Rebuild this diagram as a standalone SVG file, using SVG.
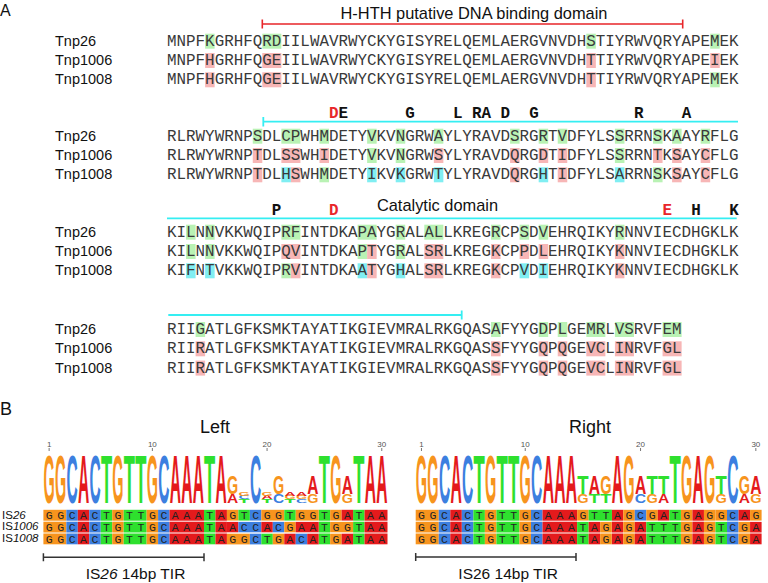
<svg xmlns="http://www.w3.org/2000/svg" width="768" height="583" viewBox="0 0 768 583">
<style>
.pl{font-family:"Liberation Sans",Arial,sans-serif;fill:#111}
.nm{font-family:"Liberation Sans",Arial,sans-serif;font-size:14.5px;fill:#111}
.sq{font-family:"Liberation Mono","Courier New",monospace;font-size:15.88px;fill:#3a3a3a}
.bl{font-family:"Liberation Mono","Courier New",monospace;font-size:15.88px;font-weight:bold;fill:#111;text-anchor:middle}
.rd{fill:#e8262a}
.dm{font-family:"Liberation Sans",Arial,sans-serif;font-size:16.4px;fill:#111;text-anchor:middle}
.hg{fill:#b9f2b4}.hp{fill:#f7b6b6}.hc{fill:#80eef2}
.cy{stroke:#35eef2;stroke-width:1.8;fill:none}
.rl{stroke:#e8262a;stroke-width:1.6;fill:none}
.lg{font-family:"Liberation Sans",Arial,sans-serif;font-weight:bold;font-size:10px;text-anchor:middle}
.g{fill:#f7941d}.c{fill:#3c7fe0}.a{fill:#e41a1c}.t{fill:#2ee02e}
.al{font-family:"Liberation Mono","Courier New",monospace;font-size:11.5px;fill:#222}
.is{font-family:"Liberation Sans",Arial,sans-serif;font-size:11.5px;fill:#111}
.tk{font-family:"Liberation Sans",Arial,sans-serif;font-size:8px;fill:#555;text-anchor:middle}
.tl{stroke:#555;stroke-width:0.8}
.br{stroke:#333;stroke-width:1.5;fill:none}
</style>
<rect width="768" height="583" fill="#fff"/>
<g id="panelA">
<text class="pl" x="0" y="16" font-size="16">A</text>
<g id="block1">
<text class="dm" x="474" y="19">H-HTH putative DNA binding domain</text>
<path class="rl" d="M262.3,24H682.7M262.3,19.5V28.5M682.7,19.5V28.5"/>
<rect class="hg" x="205.12" y="33.7" width="9.53" height="15"/><rect class="hg" x="262.30" y="33.7" width="19.06" height="15"/><rect class="hg" x="586.32" y="33.7" width="9.53" height="15"/><rect class="hg" x="710.21" y="33.7" width="9.53" height="15"/>
<rect class="hp" x="205.12" y="53" width="9.53" height="15"/><rect class="hp" x="262.30" y="53" width="19.06" height="15"/><rect class="hp" x="586.32" y="53" width="9.53" height="15"/><rect class="hp" x="710.21" y="53" width="9.53" height="15"/>
<rect class="hp" x="205.12" y="72.3" width="9.53" height="15"/><rect class="hp" x="262.30" y="72.3" width="19.06" height="15"/><rect class="hp" x="586.32" y="72.3" width="9.53" height="15"/><rect class="hg" x="710.21" y="72.3" width="9.53" height="15"/>
<text class="nm" x="55" y="45.7">Tnp26</text><text class="nm" x="55" y="65">Tnp1006</text><text class="nm" x="55" y="84.3">Tnp1008</text>
<text class="sq" x="167" y="45.7">MNPFKGRHFQRDIILWAVRWYCKYGISYRELQEMLAERGVNVDHSTIYRWVQRYAPEMEK</text>
<text class="sq" x="167" y="65">MNPFHGRHFQGEIILWAVRWYCKYGISYRELQEMLAERGVNVDHTTIYRWVQRYAPEIEK</text>
<text class="sq" x="167" y="84.3">MNPFHGRHFQGEIILWAVRWYCKYGISYRELQEMLAERGVNVDHTTIYRWVQRYAPEMEK</text>
</g>
<g id="block2">
<path class="cy" d="M263.3,121.7H738M263.3,117V126.5"/>
<text class="bl rd" x="333.8" y="118">D</text><text class="bl" x="343.3" y="118">E</text><text class="bl" x="410" y="118">G</text><text class="bl" x="457.7" y="118">L</text><text class="bl" x="476.7" y="118">R</text><text class="bl" x="486.3" y="118">A</text><text class="bl" x="505.3" y="118">D</text><text class="bl" x="533.9" y="118">G</text><text class="bl" x="638.7" y="118">R</text><text class="bl" x="686.4" y="118">A</text>
<rect class="hg" x="252.77" y="128.7" width="9.53" height="15"/><rect class="hg" x="281.36" y="128.7" width="19.06" height="15"/><rect class="hg" x="319.48" y="128.7" width="9.53" height="15"/><rect class="hg" x="367.13" y="128.7" width="9.53" height="15"/><rect class="hg" x="395.72" y="128.7" width="9.53" height="15"/><rect class="hg" x="433.84" y="128.7" width="9.53" height="15"/><rect class="hg" x="510.08" y="128.7" width="9.53" height="15"/><rect class="hg" x="538.67" y="128.7" width="9.53" height="15"/><rect class="hg" x="557.73" y="128.7" width="9.53" height="15"/><rect class="hg" x="614.91" y="128.7" width="9.53" height="15"/><rect class="hg" x="653.03" y="128.7" width="9.53" height="15"/><rect class="hg" x="672.09" y="128.7" width="9.53" height="15"/><rect class="hg" x="700.68" y="128.7" width="9.53" height="15"/>
<rect class="hp" x="252.77" y="148" width="9.53" height="15"/><rect class="hp" x="281.36" y="148" width="19.06" height="15"/><rect class="hp" x="319.48" y="148" width="9.53" height="15"/><rect class="hg" x="367.13" y="148" width="9.53" height="15"/><rect class="hg" x="395.72" y="148" width="9.53" height="15"/><rect class="hp" x="433.84" y="148" width="9.53" height="15"/><rect class="hp" x="510.08" y="148" width="9.53" height="15"/><rect class="hp" x="538.67" y="148" width="9.53" height="15"/><rect class="hp" x="557.73" y="148" width="9.53" height="15"/><rect class="hg" x="614.91" y="148" width="9.53" height="15"/><rect class="hp" x="653.03" y="148" width="9.53" height="15"/><rect class="hp" x="672.09" y="148" width="9.53" height="15"/><rect class="hp" x="700.68" y="148" width="9.53" height="15"/>
<rect class="hp" x="252.77" y="167.3" width="9.53" height="15"/><rect class="hc" x="281.36" y="167.3" width="9.53" height="15"/><rect class="hp" x="290.89" y="167.3" width="9.53" height="15"/><rect class="hg" x="319.48" y="167.3" width="9.53" height="15"/><rect class="hc" x="367.13" y="167.3" width="9.53" height="15"/><rect class="hc" x="395.72" y="167.3" width="9.53" height="15"/><rect class="hc" x="433.84" y="167.3" width="9.53" height="15"/><rect class="hp" x="510.08" y="167.3" width="9.53" height="15"/><rect class="hc" x="538.67" y="167.3" width="9.53" height="15"/><rect class="hp" x="557.73" y="167.3" width="9.53" height="15"/><rect class="hc" x="614.91" y="167.3" width="9.53" height="15"/><rect class="hg" x="653.03" y="167.3" width="9.53" height="15"/><rect class="hp" x="672.09" y="167.3" width="9.53" height="15"/><rect class="hp" x="700.68" y="167.3" width="9.53" height="15"/>
<text class="nm" x="55" y="140.7">Tnp26</text><text class="nm" x="55" y="160">Tnp1006</text><text class="nm" x="55" y="179.3">Tnp1008</text>
<text class="sq" x="167" y="140.7">RLRWYWRNPSDLCPWHMDETYVKVNGRWAYLYRAVDSRGRTVDFYLSSRRNSKAAYRFLG</text>
<text class="sq" x="167" y="160">RLRWYWRNPTDLSSWHIDETYVKVNGRWSYLYRAVDQRGDTIDFYLSSRRNTKSAYCFLG</text>
<text class="sq" x="167" y="179.3">RLRWYWRNPTDLHSWHMDETYIKVKGRWTYLYRAVDQRGHTIDFYLSARRNSKSAYCFLG</text>
</g>
<g id="block3">
<path class="cy" d="M167,218.3H736.7"/>
<text class="dm" x="437.5" y="210.7">Catalytic domain</text>
<text class="bl" x="276.6" y="215">P</text><text class="bl rd" x="333.8" y="215">D</text><text class="bl rd" x="667.3" y="215">E</text><text class="bl" x="695.9" y="215">H</text><text class="bl" x="734" y="215">K</text>
<rect class="hg" x="186.06" y="224.7" width="9.53" height="15"/><rect class="hg" x="205.12" y="224.7" width="9.53" height="15"/><rect class="hg" x="281.36" y="224.7" width="19.06" height="15"/><rect class="hg" x="357.60" y="224.7" width="19.06" height="15"/><rect class="hg" x="395.72" y="224.7" width="9.53" height="15"/><rect class="hg" x="424.31" y="224.7" width="19.06" height="15"/><rect class="hg" x="491.02" y="224.7" width="9.53" height="15"/><rect class="hg" x="519.61" y="224.7" width="9.53" height="15"/><rect class="hg" x="538.67" y="224.7" width="9.53" height="15"/><rect class="hg" x="614.91" y="224.7" width="9.53" height="15"/>
<rect class="hg" x="186.06" y="244" width="9.53" height="15"/><rect class="hg" x="205.12" y="244" width="9.53" height="15"/><rect class="hp" x="281.36" y="244" width="19.06" height="15"/><rect class="hg" x="357.60" y="244" width="9.53" height="15"/><rect class="hp" x="367.13" y="244" width="9.53" height="15"/><rect class="hg" x="395.72" y="244" width="9.53" height="15"/><rect class="hp" x="424.31" y="244" width="19.06" height="15"/><rect class="hp" x="491.02" y="244" width="9.53" height="15"/><rect class="hp" x="519.61" y="244" width="9.53" height="15"/><rect class="hp" x="538.67" y="244" width="9.53" height="15"/><rect class="hp" x="614.91" y="244" width="9.53" height="15"/>
<rect class="hc" x="186.06" y="263.3" width="9.53" height="15"/><rect class="hc" x="205.12" y="263.3" width="9.53" height="15"/><rect class="hg" x="281.36" y="263.3" width="9.53" height="15"/><rect class="hp" x="290.89" y="263.3" width="9.53" height="15"/><rect class="hc" x="357.60" y="263.3" width="9.53" height="15"/><rect class="hp" x="367.13" y="263.3" width="9.53" height="15"/><rect class="hc" x="395.72" y="263.3" width="9.53" height="15"/><rect class="hp" x="424.31" y="263.3" width="19.06" height="15"/><rect class="hp" x="491.02" y="263.3" width="9.53" height="15"/><rect class="hc" x="519.61" y="263.3" width="9.53" height="15"/><rect class="hc" x="538.67" y="263.3" width="9.53" height="15"/><rect class="hp" x="614.91" y="263.3" width="9.53" height="15"/>
<text class="nm" x="55" y="236.7">Tnp26</text><text class="nm" x="55" y="256">Tnp1006</text><text class="nm" x="55" y="275.3">Tnp1008</text>
<text class="sq" x="167" y="236.7">KILNNVKKWQIPRFINTDKAPAYGRALALLKREGRCPSDVEHRQIKYRNNVIECDHGKLK</text>
<text class="sq" x="167" y="256">KILNNVKKWQIPQVINTDKAPTYGRALSRLKREGKCPPDLEHRQIKYKNNVIECDHGKLK</text>
<text class="sq" x="167" y="275.3">KIFNTVKKWQIPRVINTDKAATYGHALSRLKREGKCPVDIEHRQIKYKNNVIECDHGKLK</text>
</g>
<g id="block4">
<path class="cy" d="M168.3,315H461.7M461.7,310.5V319.5"/>
<rect class="hg" x="195.59" y="322" width="9.53" height="15"/><rect class="hg" x="491.02" y="322" width="9.53" height="15"/><rect class="hg" x="538.67" y="322" width="9.53" height="15"/><rect class="hg" x="557.73" y="322" width="9.53" height="15"/><rect class="hg" x="586.32" y="322" width="19.06" height="15"/><rect class="hg" x="614.91" y="322" width="19.06" height="15"/><rect class="hg" x="662.56" y="322" width="19.06" height="15"/>
<rect class="hp" x="195.59" y="341.3" width="9.53" height="15"/><rect class="hp" x="491.02" y="341.3" width="9.53" height="15"/><rect class="hp" x="538.67" y="341.3" width="9.53" height="15"/><rect class="hp" x="557.73" y="341.3" width="9.53" height="15"/><rect class="hp" x="586.32" y="341.3" width="19.06" height="15"/><rect class="hp" x="614.91" y="341.3" width="19.06" height="15"/><rect class="hp" x="662.56" y="341.3" width="19.06" height="15"/>
<rect class="hp" x="195.59" y="360.6" width="9.53" height="15"/><rect class="hp" x="491.02" y="360.6" width="9.53" height="15"/><rect class="hp" x="538.67" y="360.6" width="9.53" height="15"/><rect class="hp" x="557.73" y="360.6" width="9.53" height="15"/><rect class="hp" x="586.32" y="360.6" width="19.06" height="15"/><rect class="hp" x="614.91" y="360.6" width="19.06" height="15"/><rect class="hp" x="662.56" y="360.6" width="19.06" height="15"/>
<text class="nm" x="55" y="334">Tnp26</text><text class="nm" x="55" y="353.3">Tnp1006</text><text class="nm" x="55" y="372.6">Tnp1008</text>
<text class="sq" x="167" y="334">RIIGATLGFKSMKTAYATIKGIEVMRALRKGQASAFYYGDPLGEMRLVSRVFEM</text>
<text class="sq" x="167" y="353.3">RIIRATLGFKSMKTAYATIKGIEVMRALRKGQASSFYYGQPQGEVCLINRVFGL</text>
<text class="sq" x="167" y="372.6">RIIRATLGFKSMKTAYATIKGIEVMRALRKGQASSFYYGQPQGEVCLINRVFGL</text>
</g>
</g>
<g id="panelB">
<text class="pl" x="0" y="415" font-size="18">B</text>
<text class="pl" x="215" y="433" font-size="18" text-anchor="middle">Left</text>
<text class="pl" x="590" y="433" font-size="18" text-anchor="middle">Right</text>
<g id="ticks">
<text class="tk" x="49.14" y="446.5">1</text><text class="tk" x="152.37" y="446.5">10</text><text class="tk" x="267.07" y="446.5">20</text><text class="tk" x="381.77" y="446.5">30</text>
<text class="tk" x="421.47" y="446.5">1</text><text class="tk" x="525.24" y="446.5">10</text><text class="tk" x="640.54" y="446.5">20</text><text class="tk" x="755.84" y="446.5">30</text>
<path class="tl" d="M49.14,448V451M152.37,448V451M267.07,448V451M381.77,448V451M421.47,448V451M525.24,448V451M640.54,448V451M755.84,448V451"/>
</g>
<g id="logoLeft">
<text class="lg g" x="49.14" textLength="11.2" lengthAdjust="spacingAndGlyphs" transform="matrix(1 0 0 6.913 0 502.5)">G</text>
<text class="lg g" x="60.61" textLength="11.2" lengthAdjust="spacingAndGlyphs" transform="matrix(1 0 0 6.913 0 502.5)">G</text>
<text class="lg c" x="72.08" textLength="11.2" lengthAdjust="spacingAndGlyphs" transform="matrix(1 0 0 6.913 0 502.5)">C</text>
<text class="lg a" x="83.55" textLength="11.2" lengthAdjust="spacingAndGlyphs" transform="matrix(1 0 0 6.913 0 502.5)">A</text>
<text class="lg c" x="95.02" textLength="11.2" lengthAdjust="spacingAndGlyphs" transform="matrix(1 0 0 6.913 0 502.5)">C</text>
<text class="lg t" x="106.49" textLength="11.2" lengthAdjust="spacingAndGlyphs" transform="matrix(1 0 0 6.913 0 502.5)">T</text>
<text class="lg g" x="117.96" textLength="11.2" lengthAdjust="spacingAndGlyphs" transform="matrix(1 0 0 6.913 0 502.5)">G</text>
<text class="lg t" x="129.43" textLength="11.2" lengthAdjust="spacingAndGlyphs" transform="matrix(1 0 0 6.913 0 502.5)">T</text>
<text class="lg t" x="140.90" textLength="11.2" lengthAdjust="spacingAndGlyphs" transform="matrix(1 0 0 6.913 0 502.5)">T</text>
<text class="lg g" x="152.37" textLength="11.2" lengthAdjust="spacingAndGlyphs" transform="matrix(1 0 0 6.913 0 502.5)">G</text>
<text class="lg c" x="163.84" textLength="11.2" lengthAdjust="spacingAndGlyphs" transform="matrix(1 0 0 6.913 0 502.5)">C</text>
<text class="lg a" x="175.31" textLength="11.2" lengthAdjust="spacingAndGlyphs" transform="matrix(1 0 0 6.913 0 502.5)">A</text>
<text class="lg a" x="186.78" textLength="11.2" lengthAdjust="spacingAndGlyphs" transform="matrix(1 0 0 6.913 0 502.5)">A</text>
<text class="lg a" x="198.25" textLength="11.2" lengthAdjust="spacingAndGlyphs" transform="matrix(1 0 0 6.913 0 502.5)">A</text>
<text class="lg t" x="209.72" textLength="11.2" lengthAdjust="spacingAndGlyphs" transform="matrix(1 0 0 6.913 0 502.5)">T</text>
<text class="lg a" x="221.19" textLength="11.2" lengthAdjust="spacingAndGlyphs" transform="matrix(1 0 0 6.913 0 502.5)">A</text>
<text class="lg a" x="232.66" textLength="11.2" lengthAdjust="spacingAndGlyphs" transform="matrix(1 0 0 1.246 0 502.5)">A</text>
<text class="lg g" x="232.66" textLength="11.2" lengthAdjust="spacingAndGlyphs" transform="matrix(1 0 0 2.493 0 493.58)">G</text>
<text class="lg t" x="244.13" textLength="11.2" lengthAdjust="spacingAndGlyphs" transform="matrix(1 0 0 0.478 0 502.5)">T</text>
<text class="lg c" x="244.13" textLength="11.2" lengthAdjust="spacingAndGlyphs" transform="matrix(1 0 0 0.478 0 499.08)">C</text>
<text class="lg g" x="244.13" textLength="11.2" lengthAdjust="spacingAndGlyphs" transform="matrix(1 0 0 0.478 0 495.66)">G</text>
<text class="lg c" x="255.60" textLength="11.2" lengthAdjust="spacingAndGlyphs" transform="matrix(1 0 0 6.913 0 502.5)">C</text>
<text class="lg t" x="267.07" textLength="11.2" lengthAdjust="spacingAndGlyphs" transform="matrix(1 0 0 0.478 0 502.5)">T</text>
<text class="lg a" x="267.07" textLength="11.2" lengthAdjust="spacingAndGlyphs" transform="matrix(1 0 0 0.478 0 499.08)">A</text>
<text class="lg g" x="267.07" textLength="11.2" lengthAdjust="spacingAndGlyphs" transform="matrix(1 0 0 0.478 0 495.66)">G</text>
<text class="lg c" x="278.54" textLength="11.2" lengthAdjust="spacingAndGlyphs" transform="matrix(1 0 0 1.246 0 502.5)">C</text>
<text class="lg g" x="278.54" textLength="11.2" lengthAdjust="spacingAndGlyphs" transform="matrix(1 0 0 2.493 0 493.58)">G</text>
<text class="lg t" x="290.01" textLength="11.2" lengthAdjust="spacingAndGlyphs" transform="matrix(1 0 0 0.478 0 502.5)">T</text>
<text class="lg g" x="290.01" textLength="11.2" lengthAdjust="spacingAndGlyphs" transform="matrix(1 0 0 0.478 0 499.08)">G</text>
<text class="lg a" x="290.01" textLength="11.2" lengthAdjust="spacingAndGlyphs" transform="matrix(1 0 0 0.478 0 495.66)">A</text>
<text class="lg c" x="301.48" textLength="11.2" lengthAdjust="spacingAndGlyphs" transform="matrix(1 0 0 0.478 0 502.5)">C</text>
<text class="lg g" x="301.48" textLength="11.2" lengthAdjust="spacingAndGlyphs" transform="matrix(1 0 0 0.478 0 499.08)">G</text>
<text class="lg a" x="301.48" textLength="11.2" lengthAdjust="spacingAndGlyphs" transform="matrix(1 0 0 0.478 0 495.66)">A</text>
<text class="lg g" x="312.95" textLength="11.2" lengthAdjust="spacingAndGlyphs" transform="matrix(1 0 0 1.246 0 502.5)">G</text>
<text class="lg a" x="312.95" textLength="11.2" lengthAdjust="spacingAndGlyphs" transform="matrix(1 0 0 2.493 0 493.58)">A</text>
<text class="lg t" x="324.42" textLength="11.2" lengthAdjust="spacingAndGlyphs" transform="matrix(1 0 0 6.913 0 502.5)">T</text>
<text class="lg g" x="335.89" textLength="11.2" lengthAdjust="spacingAndGlyphs" transform="matrix(1 0 0 6.913 0 502.5)">G</text>
<text class="lg g" x="347.36" textLength="11.2" lengthAdjust="spacingAndGlyphs" transform="matrix(1 0 0 1.246 0 502.5)">G</text>
<text class="lg a" x="347.36" textLength="11.2" lengthAdjust="spacingAndGlyphs" transform="matrix(1 0 0 2.493 0 493.58)">A</text>
<text class="lg t" x="358.83" textLength="11.2" lengthAdjust="spacingAndGlyphs" transform="matrix(1 0 0 6.913 0 502.5)">T</text>
<text class="lg a" x="370.30" textLength="11.2" lengthAdjust="spacingAndGlyphs" transform="matrix(1 0 0 6.913 0 502.5)">A</text>
<text class="lg a" x="381.77" textLength="11.2" lengthAdjust="spacingAndGlyphs" transform="matrix(1 0 0 6.913 0 502.5)">A</text>
</g>
<g id="logoRight">
<text class="lg g" x="421.47" textLength="11.3" lengthAdjust="spacingAndGlyphs" transform="matrix(1 0 0 6.913 0 502.5)">G</text>
<text class="lg g" x="433.00" textLength="11.3" lengthAdjust="spacingAndGlyphs" transform="matrix(1 0 0 6.913 0 502.5)">G</text>
<text class="lg c" x="444.53" textLength="11.3" lengthAdjust="spacingAndGlyphs" transform="matrix(1 0 0 6.913 0 502.5)">C</text>
<text class="lg a" x="456.06" textLength="11.3" lengthAdjust="spacingAndGlyphs" transform="matrix(1 0 0 6.913 0 502.5)">A</text>
<text class="lg c" x="467.59" textLength="11.3" lengthAdjust="spacingAndGlyphs" transform="matrix(1 0 0 6.913 0 502.5)">C</text>
<text class="lg t" x="479.12" textLength="11.3" lengthAdjust="spacingAndGlyphs" transform="matrix(1 0 0 6.913 0 502.5)">T</text>
<text class="lg g" x="490.65" textLength="11.3" lengthAdjust="spacingAndGlyphs" transform="matrix(1 0 0 6.913 0 502.5)">G</text>
<text class="lg t" x="502.18" textLength="11.3" lengthAdjust="spacingAndGlyphs" transform="matrix(1 0 0 6.913 0 502.5)">T</text>
<text class="lg t" x="513.71" textLength="11.3" lengthAdjust="spacingAndGlyphs" transform="matrix(1 0 0 6.913 0 502.5)">T</text>
<text class="lg g" x="525.24" textLength="11.3" lengthAdjust="spacingAndGlyphs" transform="matrix(1 0 0 6.913 0 502.5)">G</text>
<text class="lg c" x="536.77" textLength="11.3" lengthAdjust="spacingAndGlyphs" transform="matrix(1 0 0 6.913 0 502.5)">C</text>
<text class="lg a" x="548.30" textLength="11.3" lengthAdjust="spacingAndGlyphs" transform="matrix(1 0 0 6.913 0 502.5)">A</text>
<text class="lg a" x="559.83" textLength="11.3" lengthAdjust="spacingAndGlyphs" transform="matrix(1 0 0 6.913 0 502.5)">A</text>
<text class="lg a" x="571.36" textLength="11.3" lengthAdjust="spacingAndGlyphs" transform="matrix(1 0 0 6.913 0 502.5)">A</text>
<text class="lg g" x="582.89" textLength="11.3" lengthAdjust="spacingAndGlyphs" transform="matrix(1 0 0 1.246 0 502.5)">G</text>
<text class="lg t" x="582.89" textLength="11.3" lengthAdjust="spacingAndGlyphs" transform="matrix(1 0 0 2.493 0 493.58)">T</text>
<text class="lg t" x="594.42" textLength="11.3" lengthAdjust="spacingAndGlyphs" transform="matrix(1 0 0 1.246 0 502.5)">T</text>
<text class="lg a" x="594.42" textLength="11.3" lengthAdjust="spacingAndGlyphs" transform="matrix(1 0 0 2.493 0 493.58)">A</text>
<text class="lg t" x="605.95" textLength="11.3" lengthAdjust="spacingAndGlyphs" transform="matrix(1 0 0 1.246 0 502.5)">T</text>
<text class="lg g" x="605.95" textLength="11.3" lengthAdjust="spacingAndGlyphs" transform="matrix(1 0 0 2.493 0 493.58)">G</text>
<text class="lg a" x="617.48" textLength="11.3" lengthAdjust="spacingAndGlyphs" transform="matrix(1 0 0 6.913 0 502.5)">A</text>
<text class="lg g" x="629.01" textLength="11.3" lengthAdjust="spacingAndGlyphs" transform="matrix(1 0 0 6.913 0 502.5)">G</text>
<text class="lg c" x="640.54" textLength="11.3" lengthAdjust="spacingAndGlyphs" transform="matrix(1 0 0 1.246 0 502.5)">C</text>
<text class="lg a" x="640.54" textLength="11.3" lengthAdjust="spacingAndGlyphs" transform="matrix(1 0 0 2.493 0 493.58)">A</text>
<text class="lg g" x="652.07" textLength="11.3" lengthAdjust="spacingAndGlyphs" transform="matrix(1 0 0 1.246 0 502.5)">G</text>
<text class="lg t" x="652.07" textLength="11.3" lengthAdjust="spacingAndGlyphs" transform="matrix(1 0 0 2.493 0 493.58)">T</text>
<text class="lg a" x="663.60" textLength="11.3" lengthAdjust="spacingAndGlyphs" transform="matrix(1 0 0 1.246 0 502.5)">A</text>
<text class="lg t" x="663.60" textLength="11.3" lengthAdjust="spacingAndGlyphs" transform="matrix(1 0 0 2.493 0 493.58)">T</text>
<text class="lg t" x="675.13" textLength="11.3" lengthAdjust="spacingAndGlyphs" transform="matrix(1 0 0 6.913 0 502.5)">T</text>
<text class="lg g" x="686.66" textLength="11.3" lengthAdjust="spacingAndGlyphs" transform="matrix(1 0 0 6.913 0 502.5)">G</text>
<text class="lg a" x="698.19" textLength="11.3" lengthAdjust="spacingAndGlyphs" transform="matrix(1 0 0 6.913 0 502.5)">A</text>
<text class="lg g" x="709.72" textLength="11.3" lengthAdjust="spacingAndGlyphs" transform="matrix(1 0 0 6.913 0 502.5)">G</text>
<text class="lg g" x="721.25" textLength="11.3" lengthAdjust="spacingAndGlyphs" transform="matrix(1 0 0 1.246 0 502.5)">G</text>
<text class="lg t" x="721.25" textLength="11.3" lengthAdjust="spacingAndGlyphs" transform="matrix(1 0 0 2.493 0 493.58)">T</text>
<text class="lg c" x="732.78" textLength="11.3" lengthAdjust="spacingAndGlyphs" transform="matrix(1 0 0 6.913 0 502.5)">C</text>
<text class="lg a" x="744.31" textLength="11.3" lengthAdjust="spacingAndGlyphs" transform="matrix(1 0 0 1.246 0 502.5)">A</text>
<text class="lg g" x="744.31" textLength="11.3" lengthAdjust="spacingAndGlyphs" transform="matrix(1 0 0 2.493 0 493.58)">G</text>
<text class="lg g" x="755.84" textLength="11.3" lengthAdjust="spacingAndGlyphs" transform="matrix(1 0 0 1.246 0 502.5)">G</text>
<text class="lg a" x="755.84" textLength="11.3" lengthAdjust="spacingAndGlyphs" transform="matrix(1 0 0 2.493 0 493.58)">A</text>
</g>
<g id="alignLeft">
<rect class="g" x="43.40" y="509.8" width="22.94" height="34.5"/><rect class="c" x="66.34" y="509.8" width="11.47" height="34.5"/><rect class="a" x="77.81" y="509.8" width="11.47" height="34.5"/><rect class="c" x="89.28" y="509.8" width="11.47" height="34.5"/><rect class="t" x="100.75" y="509.8" width="11.47" height="34.5"/><rect class="g" x="112.22" y="509.8" width="11.47" height="34.5"/><rect class="t" x="123.69" y="509.8" width="22.94" height="34.5"/><rect class="g" x="146.63" y="509.8" width="11.47" height="34.5"/><rect class="c" x="158.10" y="509.8" width="11.47" height="34.5"/><rect class="a" x="169.57" y="509.8" width="34.41" height="34.5"/><rect class="t" x="203.98" y="509.8" width="11.47" height="34.5"/><rect class="a" x="215.45" y="509.8" width="11.47" height="34.5"/>
<rect class="t" x="318.68" y="509.8" width="11.47" height="34.5"/><rect class="t" x="353.09" y="509.8" width="11.47" height="34.5"/><rect class="a" x="364.56" y="509.8" width="22.94" height="34.5"/>
<rect class="g" x="226.92" y="509.8" width="11.47" height="11"/><rect class="t" x="238.39" y="509.8" width="11.47" height="11"/><rect class="c" x="249.86" y="509.8" width="11.47" height="11"/><rect class="g" x="261.33" y="509.8" width="22.94" height="11"/><rect class="t" x="284.27" y="509.8" width="11.47" height="11"/><rect class="g" x="295.74" y="509.8" width="22.94" height="11"/><rect class="g" x="330.15" y="509.8" width="11.47" height="11"/><rect class="a" x="341.62" y="509.8" width="11.47" height="11"/>
<rect class="a" x="226.92" y="521.6" width="11.47" height="11"/><rect class="c" x="238.39" y="521.6" width="22.94" height="11"/><rect class="a" x="261.33" y="521.6" width="11.47" height="11"/><rect class="c" x="272.80" y="521.6" width="11.47" height="11"/><rect class="g" x="284.27" y="521.6" width="11.47" height="11"/><rect class="a" x="295.74" y="521.6" width="22.94" height="11"/><rect class="g" x="330.15" y="521.6" width="22.94" height="11"/>
<rect class="g" x="226.92" y="533.4" width="22.94" height="11"/><rect class="c" x="249.86" y="533.4" width="11.47" height="11"/><rect class="t" x="261.33" y="533.4" width="11.47" height="11"/><rect class="g" x="272.80" y="533.4" width="11.47" height="11"/><rect class="a" x="284.27" y="533.4" width="11.47" height="11"/><rect class="c" x="295.74" y="533.4" width="11.47" height="11"/><rect class="a" x="307.21" y="533.4" width="11.47" height="11"/><rect class="g" x="330.15" y="533.4" width="11.47" height="11"/><rect class="a" x="341.62" y="533.4" width="11.47" height="11"/>
</g>
<g id="alignRight">
<rect class="g" x="415.70" y="509.8" width="23.06" height="34.5"/><rect class="c" x="438.76" y="509.8" width="11.53" height="34.5"/><rect class="a" x="450.29" y="509.8" width="11.53" height="34.5"/><rect class="c" x="461.82" y="509.8" width="11.53" height="34.5"/><rect class="t" x="473.35" y="509.8" width="11.53" height="34.5"/><rect class="g" x="484.88" y="509.8" width="11.53" height="34.5"/><rect class="t" x="496.41" y="509.8" width="23.06" height="34.5"/><rect class="g" x="519.47" y="509.8" width="11.53" height="34.5"/><rect class="c" x="531.00" y="509.8" width="11.53" height="34.5"/><rect class="a" x="542.53" y="509.8" width="34.59" height="34.5"/>
<rect class="a" x="611.71" y="509.8" width="11.53" height="34.5"/><rect class="g" x="623.24" y="509.8" width="11.53" height="34.5"/><rect class="g" x="680.89" y="509.8" width="11.53" height="34.5"/><rect class="a" x="692.42" y="509.8" width="11.53" height="34.5"/><rect class="g" x="703.95" y="509.8" width="11.53" height="34.5"/><rect class="c" x="727.01" y="509.8" width="11.53" height="34.5"/>
<rect class="g" x="577.12" y="509.8" width="11.53" height="11"/><rect class="t" x="588.65" y="509.8" width="23.06" height="11"/><rect class="c" x="634.77" y="509.8" width="11.53" height="11"/><rect class="g" x="646.30" y="509.8" width="11.53" height="11"/><rect class="a" x="657.83" y="509.8" width="11.53" height="11"/><rect class="t" x="669.36" y="509.8" width="11.53" height="11"/><rect class="g" x="715.48" y="509.8" width="11.53" height="11"/><rect class="a" x="738.54" y="509.8" width="11.53" height="11"/><rect class="g" x="750.07" y="509.8" width="11.53" height="11"/>
<rect class="t" x="577.12" y="521.6" width="11.53" height="22.7"/><rect class="a" x="588.65" y="521.6" width="11.53" height="22.7"/><rect class="g" x="600.18" y="521.6" width="11.53" height="22.7"/><rect class="a" x="634.77" y="521.6" width="11.53" height="22.7"/><rect class="t" x="646.30" y="521.6" width="34.59" height="22.7"/><rect class="t" x="715.48" y="521.6" width="11.53" height="22.7"/><rect class="g" x="738.54" y="521.6" width="11.53" height="22.7"/><rect class="a" x="750.07" y="521.6" width="11.53" height="22.7"/>
<rect class="t" x="600.18" y="509.8" width="11.53" height="11"/>
</g>
<g id="rowGaps" fill="#fff">
<rect x="40" y="520.7" width="350" height="1"/><rect x="40" y="532.5" width="350" height="1"/>
<rect x="412" y="520.7" width="352" height="1"/><rect x="412" y="532.5" width="352" height="1"/>
</g>
<g id="alignText">
<text class="al" x="45.69" y="518.9" letter-spacing="4.57">GGCACTGTTGCAAATAGTCGGTGGTGATAA</text>
<text class="al" x="45.69" y="530.7" letter-spacing="4.57">GGCACTGTTGCAAATAACCACGAATGGTAA</text>
<text class="al" x="45.69" y="542.5" letter-spacing="4.57">GGCACTGTTGCAAATAGGCTGACATGATAA</text>
<text class="al" x="418.02" y="518.9" letter-spacing="4.63">GGCACTGTTGCAAAGTTAGCGATGAGGCAG</text>
<text class="al" x="418.02" y="530.7" letter-spacing="4.63">GGCACTGTTGCAAATAGAGATTTGAGTCGA</text>
<text class="al" x="418.02" y="542.5" letter-spacing="4.63">GGCACTGTTGCAAATAGAGATTTGAGTCGA</text>
</g>
<g id="isLabels">
<text class="is" x="2" y="518.5">IS<tspan font-style="italic">26</tspan></text>
<text class="is" x="2" y="530.3">IS<tspan font-style="italic">1006</tspan></text>
<text class="is" x="2" y="542">IS<tspan font-style="italic">1008</tspan></text>
</g>
<g id="tir">
<path class="br" d="M43.4,557.3H204M43.4,553.3V561.3M204,553.3V561.3"/>
<path class="br" d="M415.7,557H576M415.7,553V561M576,553V561"/>
<text class="pl" x="135.5" y="579" font-size="15.5" text-anchor="middle">IS<tspan font-style="italic">26</tspan> 14bp TIR</text>
<text class="pl" x="508.2" y="579" font-size="15.5" text-anchor="middle">IS26 14bp TIR</text>
</g>
</g>
</svg>
